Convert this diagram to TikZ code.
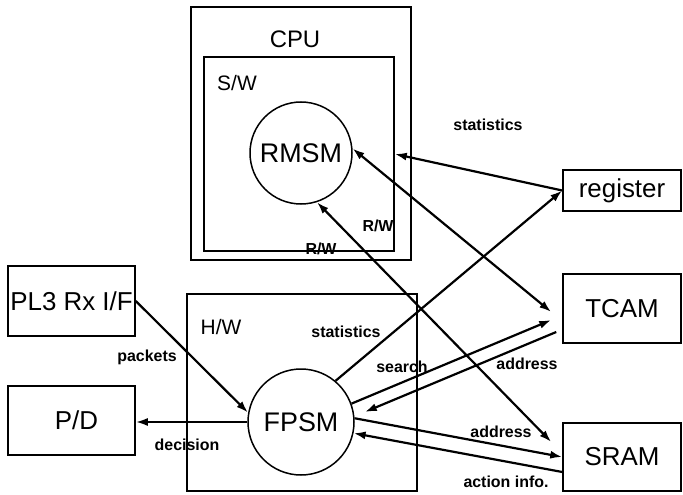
\documentclass[tikz,border=0pt]{standalone}
\usepackage{fontspec}
\setmainfont{Liberation Sans}
\usetikzlibrary{arrows.meta}

\begin{document}
\begin{tikzpicture}[x=1bp, y=-1bp, line width=1.5bp,
    >={Latex[length=12bp,width=8bp]}, ->,
    box/.style = {draw, rectangle, inner sep=0pt,
    font=\fontsize{26}{28}\selectfont},
    frame/.style = {draw, rectangle, inner sep=0pt},
    fsm/.style = {draw, circle, inner sep=0pt, minimum size=104bp,
    font=\fontsize{27}{29}\selectfont},
    head/.style = {font=\fontsize{21}{23}\selectfont},
    lbl/.style = {font=\bfseries\fontsize{16}{18}\selectfont, inner sep=1bp}]
    \useasboundingbox (0,0) rectangle (683,495);
    % CPU side
    \node[frame, minimum width=220bp, minimum height=253bp] (cpu) at (301,133.5) {};
    \node[frame, minimum width=190bp, minimum height=194bp] (sw) at (299,154) {};
    \node[head, font=\fontsize{24}{26}\selectfont] (cpulbl) at (295,39) {CPU};
    \node[head] (swlbl) at (237,83) {S/W};
    \node[fsm, minimum size=102bp] (rmsm) at (301,153) {RMSM};
    % H/W side
    \node[frame, minimum width=230bp, minimum height=197bp] (hw) at (302,392.5) {};
    \node[head] (hwlbl) at (221,327) {H/W};
    \node[fsm, minimum size=106bp] (fpsm) at (301,422) {FPSM};
    % outer blocks
    \node[box, minimum width=127bp, minimum height=70bp] (pl3) at (71.5,301) {PL3 Rx I/F};
    \node[box, minimum width=127bp, minimum height=69bp] (pd) at (71.5,420.5) {\hspace{10bp}P/D};
    \node[box, minimum width=118bp, minimum height=41bp] (reg) at (622,190.5) {register};
    \node[box, minimum width=118bp, minimum height=69bp] (tcam) at (622,308.5) {TCAM};
    \node[box, minimum width=118bp, minimum height=68bp] (sram) at (622,457) {SRAM};
    % labels
    \node[lbl] (stat1) at (488,125) {statistics};
    \node[lbl] (rw1) at (378,226) {R/W};
    \node[lbl] (rw2) at (321,249) {R/W};
    \node[lbl] (stat2) at (346,332) {statistics};
    \node[lbl] (srch) at (402,367) {search};
    \node[lbl] (addr1) at (527,364) {address};
    \node[lbl] (addr2) at (501,432) {address};
    \node[lbl] (act) at (506,482) {action info.};
    \node[lbl] (pkts) at (147,357) {packets};
    \node[lbl] (dec) at (187,445) {decision};
    \path[line width=2.2bp]
        (reg.west) edge (sw.east)
        (fpsm.50) edge (reg.west)
        (rmsm.5) edge[<->] ([shift={(-11,3.5)}]tcam.west)
        (rmsm.-72) edge[<->] ([shift={(-11,-15)}]sram.west)
        (fpsm.20) edge ([shift={(-11,11.5)}]tcam.west)
        ([shift={(-6,23.5)}]tcam.west) edge ([shift={(10,-10)}]fpsm.east)
        (fpsm.4) edge (sram.west)
        ([shift={(0,15)}]sram.west) edge (fpsm.-12)
        (pl3.east) edge (fpsm.170)
        (fpsm.west) edge (fpsm.west -| pd.east);
\end{tikzpicture}
\end{document}
